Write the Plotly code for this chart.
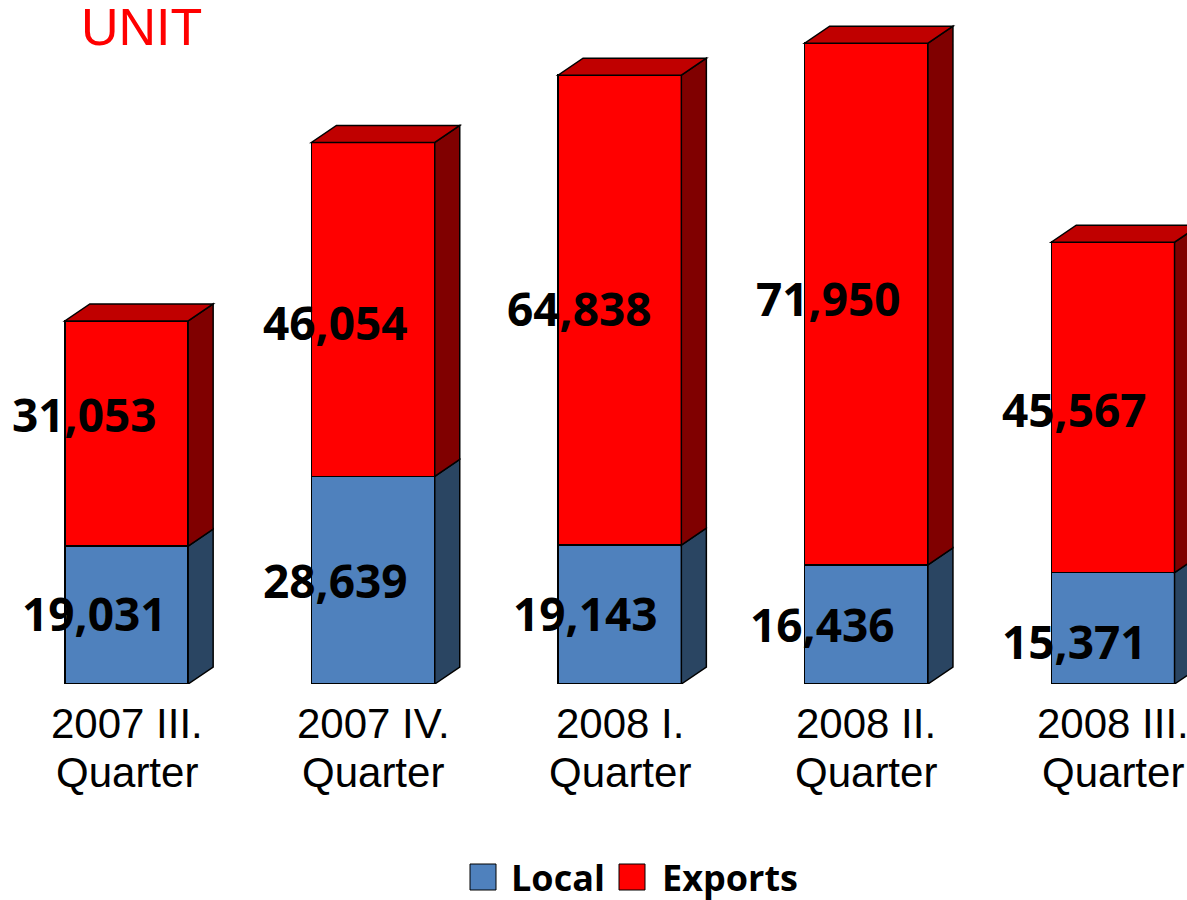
import plotly.graph_objects as go

# ---- data ----
categories_line1 = ["2007 III.", "2007 IV.", "2008 I.", "2008 II.", "2008 III."]
categories_line2 = ["Quarter", "Quarter", "Quarter", "Quarter", "Quarter"]
local = [19031, 28639, 19143, 16436, 15371]
exports = [31053, 46054, 64838, 71950, 45567]

# ---- geometry / styling ----
W, H = 1187, 900
PLOT_H = 684               # plot area height (px)
PX_PER_CAT = 246.6         # px per category
X0_PX = 126.5              # px position of first category
PX_PER_UNIT = 0.00725      # px per data unit (vertical)
BAR_W = 0.5
DEPTH_PX_X, DEPTH_PX_Y = 25, 17

# small per-label nudges (px) seen in the reference layout
local_label_shift = [(6, 2), (0, 0), (4, 2), (-6, 0), (0, -13)]
export_label_shift = [(-4, 19), (0, -13), (-2, 2), (0, 6), (0, -2)]

x_lo = -X0_PX / PX_PER_CAT
x_hi = x_lo + W / PX_PER_CAT
y_hi = PLOT_H / PX_PER_UNIT
dx = DEPTH_PX_X / PX_PER_CAT
dy = DEPTH_PX_Y / PX_PER_UNIT

C_LOCAL, C_LOCAL_SIDE = "#4F81BD", "#2A4562"
C_EXP, C_EXP_SIDE, C_EXP_TOP = "#FF0000", "#800000", "#C00000"
LINE_W = 1.5

xs = list(range(len(local)))

fig = go.Figure()
fig.add_trace(go.Bar(x=xs, y=local, width=BAR_W, name="Local",
                     marker=dict(color=C_LOCAL, line=dict(color="black", width=LINE_W)),
                     showlegend=False))
fig.add_trace(go.Bar(x=xs, y=exports, width=BAR_W, name="Exports",
                     marker=dict(color=C_EXP, line=dict(color="black", width=LINE_W)),
                     showlegend=False))

shapes = []
def poly(pts, color):
    path = "M " + " L ".join(f"{px},{py}" for px, py in pts) + " Z"
    return dict(type="path", path=path, xref="x", yref="y", fillcolor=color,
                line=dict(color="black", width=LINE_W), layer="above")

for i, (lv, ev) in enumerate(zip(local, exports)):
    xr = i + BAR_W / 2
    xl = i - BAR_W / 2
    tot = lv + ev
    # side faces
    shapes.append(poly([(xr, 0), (xr + dx, dy), (xr + dx, lv + dy), (xr, lv)], C_LOCAL_SIDE))
    shapes.append(poly([(xr, lv), (xr + dx, lv + dy), (xr + dx, tot + dy), (xr, tot)], C_EXP_SIDE))
    # top face
    shapes.append(poly([(xl, tot), (xr, tot), (xr + dx, tot + dy), (xl + dx, tot + dy)], C_EXP_TOP))

def py2paper(py):
    return (PLOT_H - py) / PLOT_H

BOLD_FAMILY = "Open Sans"

# legend (drawn manually so symbols match the reference size)
legend_items = [("Local", C_LOCAL, 470, 509), ("Exports", C_EXP, 619, 660)]
annotations = []
for name, col, sq_x, tx_x in legend_items:
    shapes.append(dict(type="rect", xref="paper", yref="paper",
                       x0=sq_x / W, x1=(sq_x + 26) / W,
                       y0=py2paper(864), y1=py2paper(890),
                       fillcolor=col, line=dict(color="black", width=1)))
    annotations.append(dict(text=f"<b>{name}</b>", xref="paper", yref="paper",
                            x=tx_x / W, y=py2paper(877), xanchor="left", yanchor="middle",
                            showarrow=False, font=dict(family=BOLD_FAMILY, size=36, color="black")))

# value labels
LABEL_FONT = dict(family=BOLD_FAMILY, size=46, color="black")
for i, (lv, ev) in enumerate(zip(local, exports)):
    lsx, lsy = local_label_shift[i]
    esx, esy = export_label_shift[i]
    annotations.append(dict(text=f"<b>{lv:,}</b>", x=i, y=lv / 2, xref="x", yref="y",
                            xshift=-38 + lsx, yshift=lsy, showarrow=False, font=LABEL_FONT))
    annotations.append(dict(text=f"<b>{ev:,}</b>", x=i, y=lv + ev / 2, xref="x", yref="y",
                            xshift=-38 + esx, yshift=esy, showarrow=False, font=LABEL_FONT))

# category labels
CAT_FONT = dict(family="Liberation Sans, Arial", size=42, color="black")
for i, (l1, l2) in enumerate(zip(categories_line1, categories_line2)):
    annotations.append(dict(text=l1, x=i, y=py2paper(724), xref="x", yref="paper",
                            yanchor="middle", showarrow=False, font=CAT_FONT))
    annotations.append(dict(text=l2, x=i, y=py2paper(772), xref="x", yref="paper",
                            yanchor="middle", showarrow=False, font=CAT_FONT))

# title
annotations.append(dict(text="UNIT", xref="paper", yref="paper", x=79 / W, y=1.0 + 4 / PLOT_H,
                        xanchor="left", yanchor="top", showarrow=False,
                        font=dict(family="Liberation Sans, Arial", size=52, color="#FF0000")))

fig.update_layout(
    width=W, height=H,
    margin=dict(l=0, r=0, t=0, b=H - PLOT_H, pad=0),
    barmode="stack",
    plot_bgcolor="white", paper_bgcolor="white",
    xaxis=dict(range=[x_lo, x_hi], visible=False, fixedrange=True),
    yaxis=dict(range=[0, y_hi], visible=False, fixedrange=True),
    shapes=shapes, annotations=annotations,
    showlegend=False,
)

fig.write_html("out.html", config={"displayModeBar": False},
               post_script="document.body.style.margin='0px';document.body.style.overflow='hidden';")
